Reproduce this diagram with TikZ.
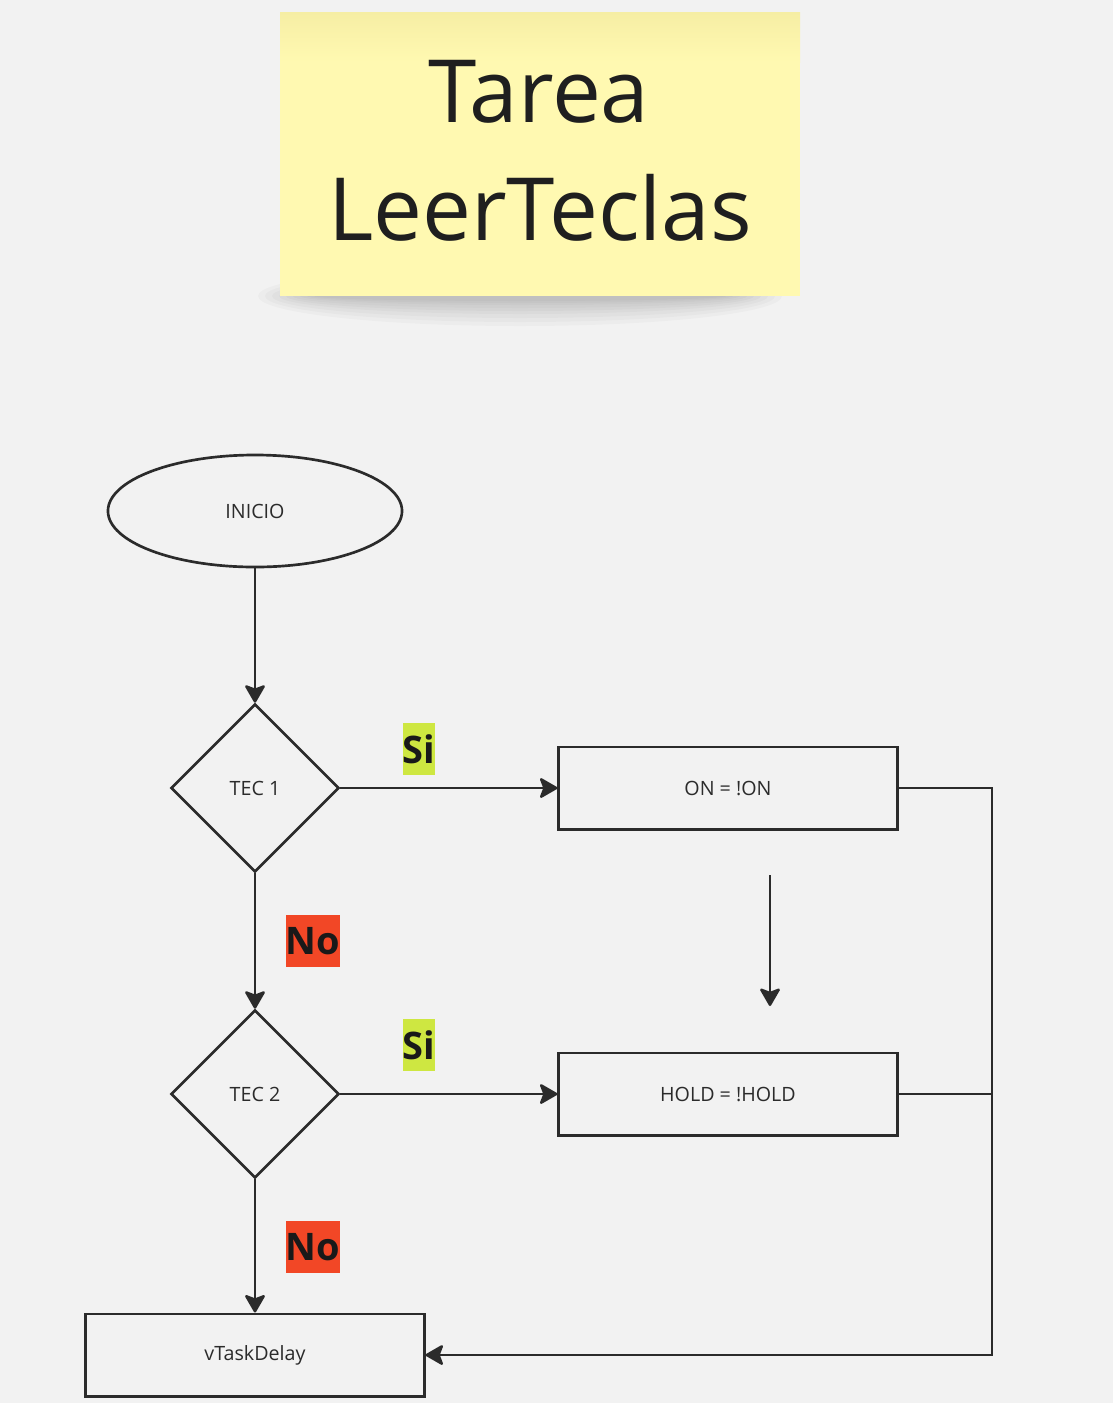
\documentclass[tikz,border=0pt]{standalone}
\usepackage{fontspec}
\setmainfont{Open Sans}
\usetikzlibrary{shapes.geometric, arrows.meta}

\definecolor{fondo}{HTML}{F2F2F2}
\definecolor{nota}{HTML}{FFF9B1}
\definecolor{notaborde}{HTML}{F6EEA4}
\definecolor{trazo}{HTML}{2B2B2B}
\definecolor{verde}{HTML}{CEE741}
\definecolor{rojo}{HTML}{F24726}

\tikzset{
  bloque/.style={draw=trazo, line width=2.1pt, rectangle, minimum width=8.45cm, minimum height=2.05cm, inner sep=0pt, text=trazo, font=\fontsize{14}{17}\selectfont},
  decision/.style={draw=trazo, line width=1.8pt, diamond, minimum width=4.2cm, minimum height=4.2cm, inner sep=0pt, text=trazo, font=\fontsize{14}{17}\selectfont},
  inicio/.style={draw=trazo, line width=1.9pt, ellipse, minimum width=7.35cm, minimum height=2.8cm, inner sep=0pt, text=trazo, font=\fontsize{14}{17}\selectfont},
  flecha/.style={draw=trazo, line width=1.7pt, -{Stealth[length=14pt, width=16pt, inset=3pt, round]}},
  conector/.style={draw=trazo, line width=1.7pt},
  etiqueta/.style={inner xsep=0pt, inner ysep=0pt, minimum height=1.3cm, text=black!90, font=\fontsize{27}{32}\selectfont\bfseries},
  titulo/.style={text=black!88, inner sep=0pt, font=\fontsize{62}{84}\selectfont}
}

\begin{document}
\begin{tikzpicture}[x=0.025cm, y=-0.025cm]
\useasboundingbox (0,0) rectangle (1113,1403);
\fill[fondo] (0,0) rectangle (1113,1403);

% nota adhesiva con su sombra
\foreach \r/\h in {262/30, 255/26, 248/22, 241/18, 234/15, 227/12, 220/9, 213/7, 206/5}
  \fill[black, opacity=0.024] (520,296) ellipse ({\r} and {\h});
\fill[nota] (280,12) rectangle (800,296);
\shade[top color=notaborde, bottom color=nota] (280,12) rectangle (800,62);
\node[titulo, anchor=base] (tarea) at (539,122) {Tarea};
\node[titulo, anchor=base] (leer) at (540,240) {LeerTeclas};

% diagrama
\node[inicio] (ini) at (255,511) {INICIO};
\node[decision] (tec1) at (255,788) {TEC 1};
\node[decision] (tec2) at (255,1094) {TEC 2};
\node[bloque] (on) at (728,788) {ON = !ON};
\node[bloque] (hold) at (728,1094) {HOLD = !HOLD};
\node[bloque] (delay) at (255,1355) {vTaskDelay};

\node[etiqueta, fill=verde] (si1) at (419,749) {Si};
\node[etiqueta, fill=rojo] (no1) at (313,941) {No};
\node[etiqueta, fill=verde] (si2) at (419,1045) {Si};
\node[etiqueta, fill=rojo] (no2) at (313,1247) {No};

\coordinate (retorno) at (992,788);
\coordinate (suelto1) at (770,875);
\coordinate (suelto2) at (770,1006);

\draw[flecha] (ini) -- (tec1);
\draw[flecha] (tec1) -- (on);
\draw[flecha] (tec1) -- (tec2);
\draw[flecha] (tec2) -- (hold);
\draw[flecha] (tec2) -- (delay);
\draw[flecha] (suelto1) -- (suelto2);
\draw[flecha] (on.east) -- (retorno) |- (delay.east);
\draw[conector] (hold.east) -- (retorno |- hold.east);
\end{tikzpicture}
\end{document}
